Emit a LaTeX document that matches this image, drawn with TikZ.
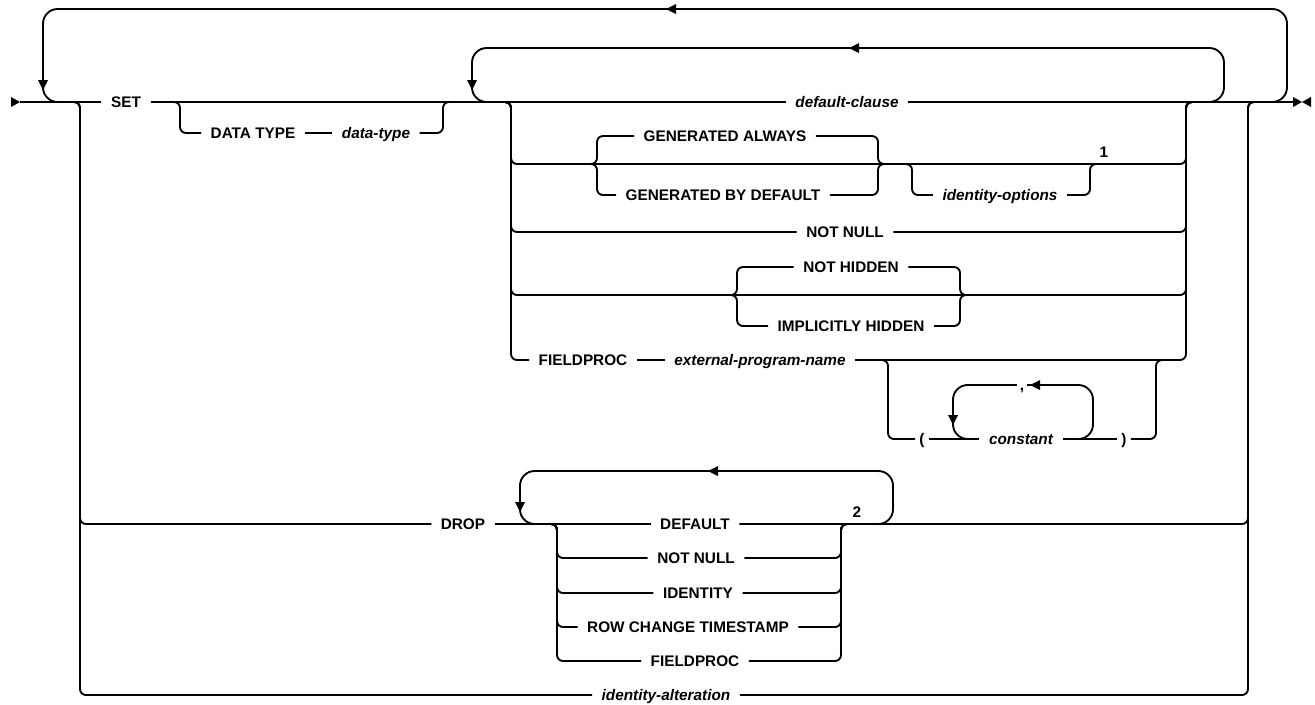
\documentclass[tikz,border=0pt]{standalone}
\usepackage{fontspec}
\setmainfont{Liberation Sans}
\newcommand\rrL[2]{\fill (#1,#2) -- ++(10,-5) -- ++(0,10) -- cycle;}
\newcommand\rrD[2]{\fill (#1,#2) -- ++(-5,-10) -- ++(10,0) -- cycle;}
\begin{document}
\begin{tikzpicture}[x=0.75pt,y=-0.75pt,
  kw/.style={font=\fontsize{11.5}{13}\selectfont\bfseries, inner xsep=7pt, inner ysep=0pt, text height=8.3pt, text depth=0pt},
  var/.style={kw, font=\fontsize{11.5}{13}\selectfont\bfseries\itshape},
  paren/.style={kw, inner xsep=3pt},
  note/.style={font=\fontsize{11.5}{13}\selectfont\bfseries, inner sep=0pt},
  rr/.style={line width=1.4pt, rounded corners=4.5pt},
  lp/.style={line width=1.4pt, rounded corners=11pt}]
\useasboundingbox (0,0) rectangle (1315,704);

% ---- text nodes
\node[kw]  (set)  at (126,102) {SET};
\node[kw]  (dtk)  at (253,133) {DATA TYPE};
\node[var] (dtv)  at (376,133) {data-type};
\node[var] (dc)   at (847,102) {default-clause};
\node[kw]  (ga)   at (725,136) {GENERATED ALWAYS};
\node[kw]  (gbd)  at (723,195) {GENERATED BY DEFAULT};
\node[var] (io)   at (1000,195) {identity-options};
\node[note] (n1)  at (1104,152) {1};
\node[kw]  (snn)  at (845,232) {NOT NULL};
\node[kw]  (nh)   at (851,267) {NOT HIDDEN};
\node[kw]  (ih)   at (851,326) {IMPLICITLY HIDDEN};
\node[kw]  (sfp)  at (583,360) {FIELDPROC};
\node[var] (epn)  at (760,360) {external-program-name};
\node[paren] (lpar) at (922,439) {(};
\node[var] (cst)  at (1021,439) {constant};
\node[paren] (rpar) at (1124,439) {)};
\node[paren, inner xsep=2pt] (comma) at (1022,385) {,};
\node[kw]  (drop) at (463,524) {DROP};
\node[kw]  (ddef) at (695,524) {DEFAULT};
\node[kw]  (dnn)  at (696,558) {NOT NULL};
\node[kw]  (did)  at (698,593) {IDENTITY};
\node[kw]  (drct) at (688,627) {ROW CHANGE TIMESTAMP};
\node[kw]  (dfp)  at (695,661) {FIELDPROC};
\node[note] (n2)  at (857,512) {2};
\node[var] (ia)   at (666,695) {identity-alteration};

% ---- main line
\coordinate (start) at (20,102);
\coordinate (stop) at (1295,102);
\draw[rr] (start) -- (set.west);
\draw[rr] (set.east) -- (dc.west);
\draw[rr] (dc.east) -- (stop);
\fill (11,97) -- (20,102) -- (11,107) -- cycle;
\fill (1293,97) -- (1302,102) -- (1293,107) -- cycle;
\fill (1311,97) -- (1302,102) -- (1311,107) -- cycle;

% ---- outer repeat loop
\draw[lp] (1262,102) -| (1287,9) -| (43,102) -- (64,102);
\rrL{666}{9}
\rrD{43}{90}

% ---- DATA TYPE
\draw[rr] (170,102) -| (180,133) -- (dtk.west);
\draw[rr] (dtk.east) -- (dtv.west);
\draw[rr] (dtv.east) -| (443,102) -- (453,102);

% ---- inner repeat loop
\draw[lp] (1205,102) -| (1224,48) -| (472,102) -- (491,102);
\rrL{849}{48}
\rrD{472}{90}

% ---- GENERATED row
\draw[rr] (500,102) -| (511,164) -| (1186,102) -- (1196,102);
\draw[rr] (585,164) -| (597,136) -- (ga.west);
\draw[rr] (585,164) -| (597,195) -- (gbd.west);
\draw[rr] (ga.east) -| (878,164) -- (890,164);
\draw[rr] (gbd.east) -| (878,164) -- (890,164);
\draw[rr] (902,164) -| (912,195) -- (io.west);
\draw[rr] (io.east) -| (1090,164) -- (1100,164);

% ---- NOT NULL row
\draw[rr] (500,102) -| (511,232) -- (snn.west);
\draw[rr] (snn.east) -| (1186,102) -- (1196,102);

% ---- HIDDEN row
\draw[rr] (500,102) -| (511,295) -| (1186,102) -- (1196,102);
\draw[rr] (725,295) -| (737,267) -- (nh.west);
\draw[rr] (725,295) -| (737,326) -- (ih.west);
\draw[rr] (nh.east) -| (960,295) -- (972,295);
\draw[rr] (ih.east) -| (960,295) -- (972,295);

% ---- FIELDPROC row
\draw[rr] (500,102) -| (511,360) -- (sfp.west);
\draw[rr] (sfp.east) -- (epn.west);
\draw[rr] (epn.east) -| (1186,102) -- (1196,102);
\draw[rr] (878,360) -| (888,439) -- (lpar.west);
\draw[rr] (lpar.east) -- (cst.west);
\draw[rr] (cst.east) -- (rpar.west);
\draw[rr] (rpar.east) -| (1156,360) -- (1166,360);
\draw[lp] (1075,439) -| (1093,385) -- (comma.east);
\draw[lp] (comma.west) -| (953,439) -- (972,439);
\rrL{1030}{385}
\rrD{953}{425}

% ---- DROP and identity-alteration
\draw[rr] (70,102) -| (80,524) -- (drop.west);
\draw[rr] (70,102) -| (80,695) -- (ia.west);
\draw[rr] (ia.east) -| (1248,102) -- (1258,102);
\draw[rr] (drop.east) -- (ddef.west);
\draw[rr] (ddef.east) -| (1248,102) -- (1258,102);
\draw[lp] (875,524) -| (893,471) -| (520,524) -- (538,524);
\rrL{708}{471}
\rrD{520}{512}
\foreach \n/\yy in {dnn/558, did/593, drct/627, dfp/661}{
  \draw[rr] (547,524) -| (557,\yy) -- (\n.west);
  \draw[rr] (\n.east) -| (841,524) -- (851,524);
}
\end{tikzpicture}
\end{document}
